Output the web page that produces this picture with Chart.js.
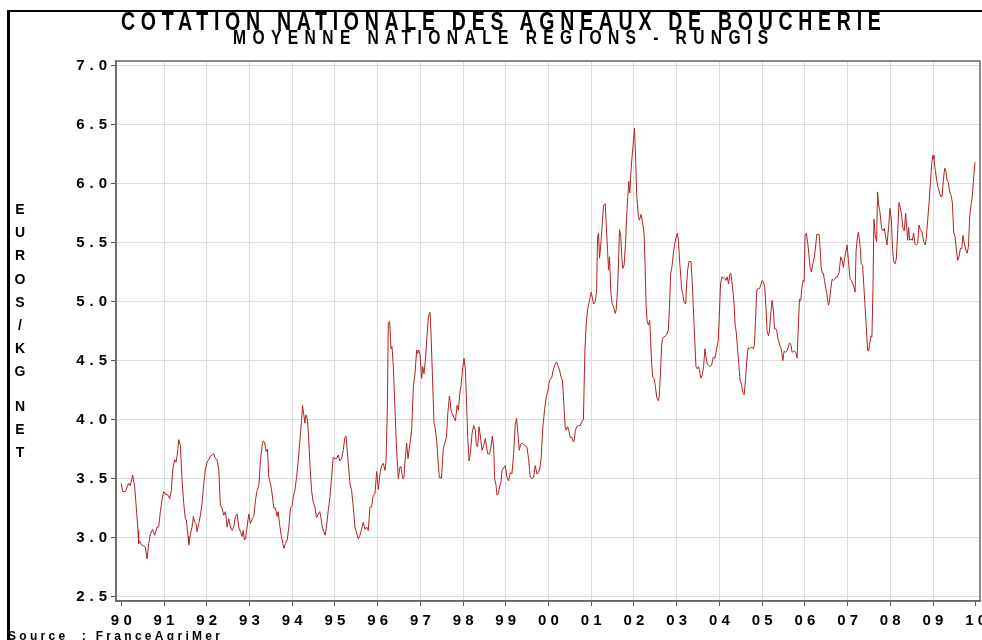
<!DOCTYPE html>
<html>
<head>
<meta charset="utf-8">
<script src="https://cdn.jsdelivr.net/npm/chart.js@4.4.1/dist/chart.umd.min.js"></script>
<style>
    body { margin: 0; background: #fff; }
    #wrap { position: relative; width: 982px; height: 640px; overflow: hidden; }
    #chart { position: absolute; left: 0; top: 0; }
    #frame { position: absolute; left: 7px; top: 10px; width: 990px; height: 640px;
             border-top: 2px solid #000; border-left: 3px solid #000; }
    .txt { position: absolute; white-space: pre; font-weight: bold; color: #000; }
    .cond { transform: scaleX(0.78); transform-origin: 0 0; }
    #title { left: 121px; top: 9px; font: bold 25px 'Liberation Sans', Arial, sans-serif; line-height: 25px; }
    #subtitle { left: 233px; top: 27px; font: bold 20px 'Liberation Sans', Arial, sans-serif; line-height: 20px; }
    #source { left: 8px; top: 630px; font: bold 12px 'Liberation Sans', Arial, sans-serif; line-height: 12px; letter-spacing: 3.3px; }
    #ylabel { position: absolute; left: 12px; top: 198px; width: 16px; text-align: center;
              font: bold 14px 'Liberation Sans', Arial, sans-serif; }
    #ylabel span { display: block; height: 23.2px; line-height: 23.2px; }
    #ylabel span.gap { height: 11px; }
</style>
</head>
<body>
<div id="wrap">
    <canvas id="chart" width="982" height="640"></canvas>
    <div id="frame"></div>
    <div class="txt cond" id="title">COTATION NATIONALE DES AGNEAUX DE BOUCHERIE</div>
    <div class="txt cond" id="subtitle">MOYENNE NATIONALE REGIONS - RUNGIS</div>
    <div id="ylabel"></div>
    <div class="txt" id="source">Source  : FranceAgriMer</div>
</div>
<script>
// Weekly national quotation (decimal year, euros/kg)
const yrs1990 = [1990.000,1990.031,1990.094,1990.172,1990.211,1990.266,1990.313,1990.344,1990.391,1990.406,1990.430,1990.469,1990.523,1990.563,1990.602,1990.641,1990.680,1990.734,1990.781,1990.836,1990.875,1990.914,1990.953,1990.992,1991.031,1991.094,1991.133,1991.172,1991.203,1991.250,1991.281,1991.313,1991.344,1991.383,1991.422,1991.461,1991.500,1991.523,1991.563,1991.578,1991.617,1991.656,1991.688,1991.719,1991.750,1991.773,1991.813,1991.852,1991.891,1991.930,1991.969,1992.008,1992.047,1992.086,1992.125,1992.164,1992.203,1992.242,1992.281,1992.320,1992.359,1992.398,1992.438,1992.477,1992.516,1992.555,1992.594,1992.633,1992.672,1992.711,1992.750,1992.789,1992.828,1992.852,1992.883,1992.906,1992.945,1992.984,1993.023,1993.063,1993.102,1993.141,1993.180,1993.219,1993.258,1993.297,1993.320,1993.352,1993.391,1993.422,1993.453,1993.492,1993.531,1993.570,1993.609,1993.648,1993.672,1993.703,1993.742,1993.781,1993.805,1993.844,1993.883,1993.922,1993.961];
const eur1990 = [3.46,3.39,3.39,3.46,3.44,3.53,3.43,3.29,3.06,2.95,2.97,2.94,2.93,2.92,2.82,2.95,3.03,3.07,3.02,3.09,3.09,3.22,3.32,3.39,3.37,3.36,3.33,3.40,3.58,3.66,3.64,3.71,3.83,3.78,3.49,3.29,3.16,3.15,3.01,2.94,3.03,3.09,3.18,3.13,3.12,3.05,3.12,3.19,3.29,3.46,3.58,3.64,3.66,3.69,3.70,3.71,3.67,3.66,3.58,3.27,3.25,3.19,3.22,3.09,3.16,3.09,3.06,3.09,3.18,3.20,3.09,3.05,3.01,3.06,2.98,2.99,3.09,3.20,3.12,3.16,3.18,3.32,3.40,3.44,3.66,3.78,3.82,3.81,3.73,3.75,3.51,3.46,3.37,3.25,3.25,3.18,3.22,3.12,3.02,2.95,2.91,2.95,2.98,3.09,3.25];

const yrs1994 = [1994.000,1994.023,1994.063,1994.102,1994.141,1994.180,1994.219,1994.242,1994.273,1994.297,1994.320,1994.352,1994.375,1994.414,1994.453,1994.492,1994.531,1994.570,1994.609,1994.648,1994.672,1994.703,1994.742,1994.773,1994.805,1994.844,1994.883,1994.922,1994.961,1995.000,1995.039,1995.078,1995.117,1995.156,1995.195,1995.234,1995.258,1995.289,1995.320,1995.352,1995.391,1995.430,1995.469,1995.508,1995.547,1995.586,1995.625,1995.664,1995.703,1995.742,1995.781,1995.820,1995.859,1995.898,1995.938,1995.977,1996.016,1996.055,1996.094,1996.133,1996.172,1996.195,1996.227,1996.250,1996.281,1996.313,1996.336,1996.367,1996.406,1996.445,1996.484,1996.523,1996.547,1996.586,1996.617,1996.641,1996.680,1996.711,1996.758,1996.797,1996.836,1996.875,1996.914,1996.938,1996.961,1996.992,1997.031,1997.055,1997.086,1997.117,1997.148,1997.188,1997.227,1997.250,1997.281,1997.320,1997.352,1997.383,1997.422,1997.445,1997.477];
const eur1994 = [3.27,3.34,3.40,3.51,3.65,3.82,3.99,4.12,4.04,3.97,4.04,4.01,3.91,3.63,3.40,3.30,3.26,3.17,3.20,3.22,3.17,3.09,3.05,3.02,3.10,3.23,3.34,3.51,3.68,3.67,3.67,3.70,3.65,3.67,3.74,3.85,3.86,3.74,3.60,3.46,3.40,3.26,3.09,3.04,2.99,3.02,3.07,3.13,3.07,3.09,3.06,3.26,3.26,3.36,3.37,3.56,3.41,3.54,3.61,3.63,3.57,3.64,4.08,4.82,4.83,4.60,4.62,4.45,4.08,3.74,3.50,3.60,3.60,3.50,3.51,3.65,3.80,3.67,3.80,3.91,4.28,4.39,4.59,4.56,4.59,4.55,4.35,4.45,4.39,4.50,4.67,4.87,4.91,4.73,4.39,3.97,3.92,3.82,3.61,3.51,3.51];

const yrs1997 = [1997.494,1997.533,1997.564,1997.611,1997.642,1997.681,1997.720,1997.751,1997.782,1997.821,1997.860,1997.891,1997.922,1997.953,1997.992,1998.023,1998.054,1998.078,1998.109,1998.140,1998.171,1998.210,1998.249,1998.288,1998.311,1998.342,1998.374,1998.405,1998.444,1998.482,1998.521,1998.545,1998.576,1998.623,1998.654,1998.685,1998.716,1998.739,1998.770,1998.794,1998.825,1998.856,1998.887,1998.911,1998.949,1998.988,1999.027,1999.066,1999.105,1999.144,1999.183,1999.222,1999.253,1999.284,1999.315,1999.346,1999.377,1999.416,1999.455,1999.494,1999.533,1999.572,1999.611,1999.650,1999.689,1999.728,1999.767,1999.805,1999.829,1999.868,1999.907,1999.946,1999.977,2000.023,2000.078,2000.117,2000.156,2000.187,2000.218,2000.257,2000.288,2000.327,2000.350,2000.389,2000.412,2000.444,2000.475,2000.506,2000.545,2000.584,2000.607,2000.630,2000.661,2000.700,2000.739,2000.778,2000.817];
const eur1997 = [3.50,3.74,3.79,3.85,4.05,4.20,4.08,4.05,4.02,3.99,4.12,4.08,4.22,4.29,4.44,4.52,4.42,4.19,3.85,3.65,3.71,3.88,3.95,3.91,3.78,3.77,3.94,3.86,3.74,3.78,3.84,3.78,3.71,3.71,3.77,3.86,3.77,3.50,3.45,3.36,3.37,3.43,3.47,3.57,3.59,3.61,3.51,3.48,3.55,3.54,3.71,3.96,4.01,3.88,3.74,3.79,3.80,3.79,3.78,3.77,3.67,3.51,3.50,3.51,3.61,3.54,3.55,3.60,3.68,3.94,4.08,4.19,4.23,4.33,4.36,4.43,4.47,4.49,4.46,4.42,4.37,4.33,4.19,3.94,3.91,3.94,3.91,3.85,3.85,3.81,3.84,3.91,3.94,3.95,3.95,3.98,4.00];

const yrs2000 = [2000.852,2000.883,2000.914,2000.953,2000.977,2001.000,2001.023,2001.054,2001.093,2001.125,2001.148,2001.171,2001.195,2001.226,2001.249,2001.288,2001.327,2001.350,2001.381,2001.405,2001.428,2001.459,2001.490,2001.521,2001.560,2001.584,2001.615,2001.638,2001.661,2001.693,2001.716,2001.739,2001.770,2001.802,2001.833,2001.856,2001.879,2001.903,2001.926,2001.949,2001.988,2002.012,2002.035,2002.066,2002.105,2002.128,2002.167,2002.198,2002.237,2002.261,2002.284,2002.307,2002.339,2002.370,2002.393,2002.416,2002.440,2002.471,2002.502,2002.533,2002.572,2002.595,2002.626,2002.650,2002.673,2002.704,2002.735,2002.767,2002.805,2002.829,2002.860,2002.891,2002.922,2002.953,2002.984,2003.016,2003.039,2003.078,2003.117,2003.140,2003.171,2003.210,2003.233,2003.257,2003.288,2003.335,2003.366,2003.389,2003.420,2003.451,2003.482,2003.514,2003.545,2003.568,2003.599,2003.630,2003.661,2003.685,2003.716,2003.747,2003.778,2003.817,2003.856,2003.895,2003.934,2003.973,2003.996,2004.027,2004.058,2004.089,2004.121,2004.152,2004.183,2004.214,2004.245,2004.268,2004.300];
const eur2000 = [4.59,4.81,4.93,5.00,5.04,5.08,5.04,4.98,5.00,5.08,5.54,5.58,5.37,5.49,5.61,5.81,5.83,5.66,5.44,5.27,5.38,5.08,4.98,4.96,4.90,4.93,5.10,5.32,5.61,5.55,5.37,5.28,5.31,5.49,5.75,5.89,6.02,5.92,6.08,6.20,6.36,6.47,6.26,5.89,5.72,5.69,5.74,5.68,5.58,5.30,4.98,4.84,4.80,4.84,4.64,4.47,4.36,4.35,4.28,4.19,4.16,4.21,4.45,4.64,4.69,4.70,4.71,4.72,4.76,4.93,5.24,5.30,5.41,5.49,5.54,5.58,5.52,5.30,5.10,5.07,5.00,4.98,5.15,5.27,5.34,5.34,5.15,4.96,4.70,4.45,4.43,4.45,4.39,4.35,4.38,4.45,4.60,4.53,4.47,4.46,4.45,4.46,4.53,4.52,4.60,4.67,4.87,5.15,5.21,5.20,5.20,5.18,5.21,5.15,5.23,5.24,5.15];

const yrs2004 = [2004.345,2004.368,2004.392,2004.423,2004.454,2004.485,2004.516,2004.548,2004.579,2004.610,2004.641,2004.672,2004.704,2004.735,2004.766,2004.797,2004.821,2004.844,2004.875,2004.906,2004.938,2004.969,2005.000,2005.031,2005.062,2005.094,2005.117,2005.148,2005.172,2005.203,2005.234,2005.265,2005.289,2005.320,2005.343,2005.374,2005.406,2005.437,2005.460,2005.484,2005.515,2005.546,2005.577,2005.608,2005.640,2005.671,2005.702,2005.733,2005.764,2005.796,2005.819,2005.842,2005.874,2005.905,2005.928,2005.959,2005.983,2006.006,2006.037,2006.069,2006.092,2006.123,2006.154,2006.186,2006.225,2006.256,2006.279,2006.334,2006.357,2006.381,2006.412,2006.435,2006.459,2006.490,2006.513,2006.552,2006.576,2006.607,2006.638,2006.669,2006.700,2006.732,2006.763,2006.802,2006.841,2006.872,2006.903,2006.934,2006.966,2006.989,2007.020,2007.059,2007.090,2007.122,2007.153,2007.176,2007.200,2007.231,2007.254];
const eur2004 = [4.98,4.80,4.75,4.61,4.47,4.33,4.30,4.23,4.21,4.33,4.50,4.61,4.60,4.61,4.61,4.60,4.64,4.84,5.09,5.11,5.11,5.14,5.18,5.17,5.12,4.92,4.75,4.71,4.75,4.90,5.01,4.92,4.77,4.77,4.75,4.68,4.64,4.61,4.57,4.50,4.58,4.57,4.58,4.61,4.65,4.64,4.57,4.58,4.58,4.56,4.52,4.74,5.02,5.01,5.11,5.18,5.17,5.56,5.58,5.49,5.41,5.29,5.25,5.32,5.38,5.48,5.57,5.57,5.46,5.29,5.24,5.24,5.18,5.11,5.07,4.97,5.00,5.11,5.19,5.18,5.19,5.21,5.21,5.25,5.38,5.35,5.29,5.38,5.43,5.48,5.35,5.19,5.18,5.15,5.12,5.08,5.43,5.55,5.59];

const yrs2007 = [2007.297,2007.320,2007.352,2007.383,2007.406,2007.438,2007.469,2007.492,2007.516,2007.547,2007.570,2007.594,2007.617,2007.648,2007.680,2007.703,2007.727,2007.758,2007.797,2007.828,2007.859,2007.891,2007.922,2007.961,2007.992,2008.023,2008.055,2008.078,2008.109,2008.141,2008.172,2008.203,2008.234,2008.266,2008.297,2008.328,2008.359,2008.383,2008.406,2008.430,2008.453,2008.484,2008.516,2008.547,2008.578,2008.609,2008.641,2008.672,2008.703,2008.742,2008.781,2008.820,2008.844,2008.875,2008.906,2008.938,2008.969,2009.000,2009.023,2009.055,2009.086,2009.117,2009.148,2009.180,2009.211,2009.242,2009.273,2009.305,2009.328,2009.359,2009.391,2009.422,2009.453,2009.484,2009.516,2009.547,2009.578,2009.609,2009.641,2009.672,2009.703,2009.734,2009.766,2009.797,2009.828,2009.859,2009.891,2009.922,2009.953,2009.984];
const eur2007 = [5.46,5.32,5.31,5.12,4.98,4.79,4.59,4.58,4.64,4.71,4.70,5.10,5.70,5.56,5.51,5.93,5.82,5.76,5.62,5.60,5.62,5.55,5.48,5.63,5.79,5.70,5.44,5.34,5.32,5.36,5.58,5.84,5.80,5.73,5.62,5.60,5.75,5.63,5.52,5.63,5.52,5.53,5.52,5.58,5.49,5.48,5.49,5.65,5.61,5.59,5.51,5.48,5.55,5.69,5.83,6.00,6.17,6.24,6.21,6.11,6.03,5.97,5.93,5.89,5.89,6.03,6.13,6.10,6.03,6.01,5.93,5.90,5.84,5.59,5.55,5.44,5.35,5.38,5.45,5.45,5.56,5.49,5.44,5.41,5.46,5.72,5.82,5.90,6.06,6.18];

// axis ticks
const xTicks = [1990,1991,1992,1993,1994,1995,1996,1997,1998,1999,2000,2001,2002,2003,2004,2005,2006,2007,2008,2009,2010];
const yTicks = [2.5,3.0,3.5,4.0,4.5,5.0,5.5,6.0,6.5,7.0];

const yearLists = [yrs1990, yrs1994, yrs1997, yrs2000, yrs2004, yrs2007];
const priceLists = [eur1990, eur1994, eur1997, eur2000, eur2004, eur2007];
const points = [];
yearLists.forEach((yrs, i) => {
    yrs.forEach((t, j) => points.push({ x: t, y: priceLists[i][j] }));
});

// vertical axis title, one letter per line
const yl = document.getElementById('ylabel');
'EUROS/KG NET'.split('').forEach(ch => {
    const s = document.createElement('span');
    if (ch === ' ') { s.className = 'gap'; s.innerHTML = '&nbsp;'; } else { s.textContent = ch; }
    yl.appendChild(s);
});

// condensed title letters, spread out to the reference width
const squeeze = 0.78;
function spread(id, target) {
    const el = document.getElementById(id);
    el.style.letterSpacing = '0px';
    const w = el.offsetWidth;
    const n = el.textContent.length;
    el.style.letterSpacing = ((target / squeeze - w) / (n - 1)) + 'px';
}
spread('title', 760);
spread('subtitle', 535);

const plotBox = {
    id: 'plotBox',
    afterDatasetsDraw(chart) {
        const { ctx, chartArea: a } = chart;
        ctx.save();
        ctx.strokeStyle = '#666';
        ctx.lineWidth = 1.5;
        ctx.strokeRect(a.left, a.top, a.right - a.left, a.bottom - a.top);
        ctx.restore();
    }
};

const tickFont = { family: "'Liberation Sans', Arial, sans-serif", size: 15, weight: 'bold' };

new Chart(document.getElementById('chart'), {
    type: 'line',
    data: {
        datasets: [{
            data: points,
            borderColor: '#b22222',
            borderWidth: 1,
            pointRadius: 0,
            tension: 0,
            fill: false
        }]
    },
    options: {
        responsive: false,
        animation: false,
        events: [],
        layout: { padding: { top: 61, right: 2, left: 0, bottom: 0 } },
        plugins: { legend: { display: false }, tooltip: { enabled: false } },
        scales: {
            x: {
                type: 'linear',
                min: 1989.876,
                max: 2010.10,
                afterBuildTicks: s => { s.ticks = xTicks.map(v => ({ value: v })); },
                afterFit: s => { s.height = 39; s.paddingLeft = 0; s.paddingRight = 0; },
                ticks: {
                    autoSkip: false,
                    maxRotation: 0,
                    padding: 6,
                    color: '#000',
                    font: tickFont,
                    callback: v => String(v % 100).padStart(2, '0').split('').join(' ')
                },
                grid: {
                    color: c => (c.tick && (c.tick.value === 1990 || c.tick.value === 2010)) ? 'rgba(0,0,0,0)' : '#dcdcdc',
                    lineWidth: 1,
                    tickLength: 5,
                    tickColor: '#555'
                },
                border: { display: true, color: '#666', width: 1.5 }
            },
            y: {
                min: 2.463,
                max: 7.039,
                afterBuildTicks: s => { s.ticks = yTicks.map(v => ({ value: v })); },
                afterFit: s => { s.width = 116; },
                ticks: {
                    padding: 4,
                    color: '#000',
                    font: tickFont,
                    callback: v => v.toFixed(1).split('').join('\u2004')
                },
                grid: {
                    color: '#dcdcdc',
                    lineWidth: 1,
                    tickLength: 5,
                    tickColor: '#555'
                },
                border: { display: true, color: '#666', width: 1.5 }
            }
        }
    },
    plugins: [plotBox]
});
</script>
</body>
</html>
